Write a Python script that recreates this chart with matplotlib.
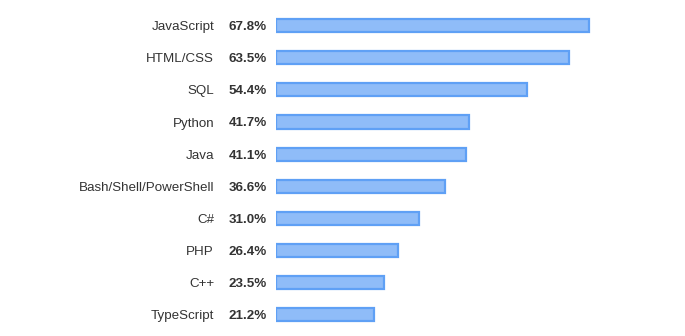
import matplotlib
matplotlib.use('Agg')
import matplotlib.pyplot as plt

languages = ['JavaScript', 'HTML/CSS', 'SQL', 'Python', 'Java',
             'Bash/Shell/PowerShell', 'C#', 'PHP', 'C++', 'TypeScript']
shares = [67.8, 63.5, 54.4, 41.7, 41.1, 36.6, 31.0, 26.4, 23.5, 21.2]

plt.rcParams['font.family'] = ['Liberation Sans', 'DejaVu Sans']

W, H = 685, 336
fig = plt.figure(figsize=(W / 100, H / 100), dpi=100)
x0 = 276
ax = fig.add_axes([x0 / W, 0, 1 - x0 / W, 1])
px_per_pct = 313 / 67.8
ax.set_xlim(0, (W - x0) / px_per_pct)
y_first, step = 25.7, 32.1
ax.set_ylim((H - y_first) / step, -y_first / step)
ax.axis('off')

pos = list(range(len(languages)))
ax.barh(pos, shares, height=0.41, color='#8fbcf8', edgecolor='#5fa0f5',
        linewidth=1.6)

for i, (name, val) in enumerate(zip(languages, shares)):
    ax.annotate(name, xy=(0, i), xytext=(-62, -1.5), textcoords='offset pixels',
                ha='right', va='center', fontsize=9.6, color='#333333')
    ax.annotate(f'{val:.1f}%', xy=(0, i), xytext=(-9, -1.5), textcoords='offset pixels',
                ha='right', va='center', fontsize=9.6, color='#333333',
                fontweight='bold')

fig.savefig('out.png', dpi=100)
